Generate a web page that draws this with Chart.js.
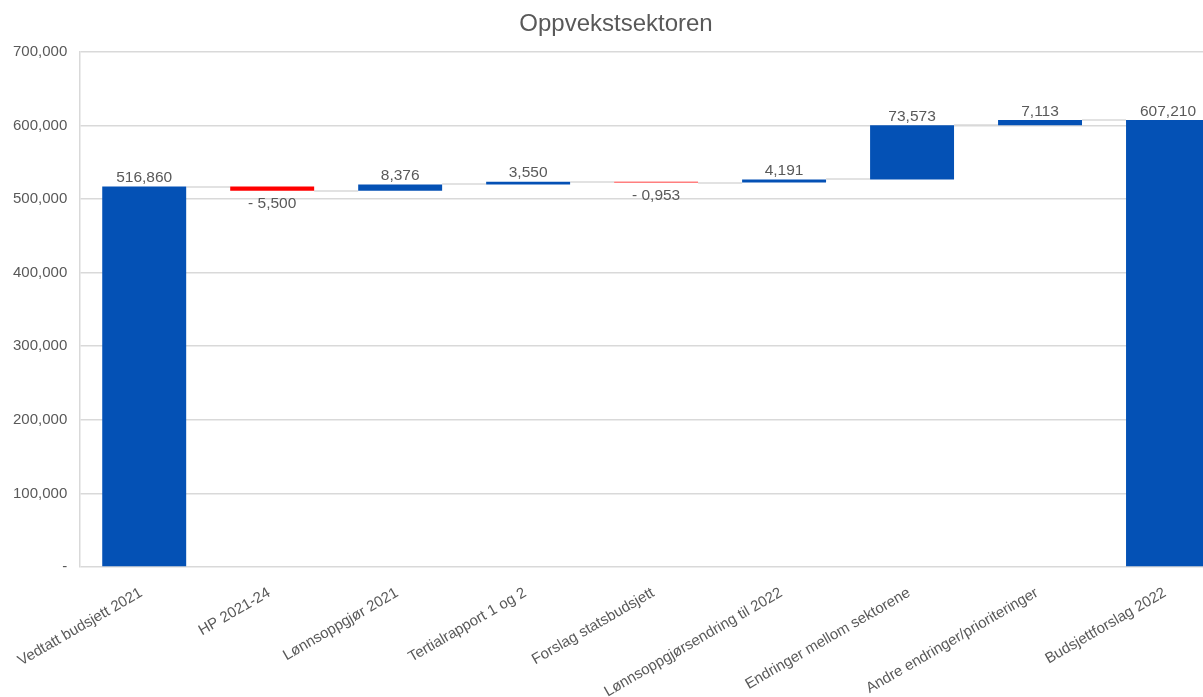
<!DOCTYPE html>
<html>
<head>
<meta charset="utf-8">
<script src="https://cdn.jsdelivr.net/npm/chart.js@4/dist/chart.umd.min.js"></script>
<style>
  html, body { margin: 0; padding: 0; background: #fff; overflow: hidden; }
  #wrap { width: 1232px; height: 697px; }
</style>
</head>
<body>
<div id="wrap"><canvas id="waterfall" width="1232" height="697"></canvas></div>
<script>
// Waterfall: budsjett 2021 -> 2022 for oppvekstsektoren

const categories = [
    "Vedtatt budsjett 2021",
    "HP 2021-24",
    "Lønnsoppgjør 2021",
    "Tertialrapport 1 og 2",
    "Forslag statsbudsjett",
    "Lønnsoppgjørsendring til 2022",
    "Endringer mellom sektorene",
    "Andre endringer/prioriteringer",
    "Budsjettforslag 2022"
]
const changes = [516860, -5500, 8376, 3550, -953, 4191, 73573, 7113, 607210]
const isTotal = [true, false, false, false, false, false, false, false, true]
const yTicks = [0, 100000, 200000, 300000, 400000, 500000, 600000, 700000]

const BLUE = "#0451b5"
const RED = "#ff0000"
const GREY_TEXT = "#595959"
const GRID = "#d9d9d9"
const FONT = "'Liberation Sans', Arial, sans-serif"

// floating bars [start, end] from the running total
const ranges = []
const totals = []
let running = 0
for (let i = 0; i < changes.length; i++) {
    if (isTotal[i]) {
        ranges.push([0, changes[i]])
        running = changes[i]
    } else {
        ranges.push([running, running + changes[i]])
        running += changes[i]
    }
    totals.push(running)
}

function fmtLabel(v) {
    const s = (Math.abs(v) / 1000).toFixed(3).replace('.', ',')
    return v < 0 ? "- " + s : s
}

const connectors = {
    id: 'connectors',
    beforeDatasetsDraw(chart) {
        const ctx = chart.ctx
        const meta = chart.getDatasetMeta(0)
        const y = chart.scales.y
        ctx.save()
        ctx.strokeStyle = GRID
        ctx.lineWidth = 1.5
        for (let i = 0; i < meta.data.length - 1; i++) {
            const a = meta.data[i], b = meta.data[i + 1]
            const py = Math.round(y.getPixelForValue(totals[i]))
            ctx.beginPath()
            ctx.moveTo(a.x + a.width / 2, py)
            ctx.lineTo(b.x - b.width / 2, py)
            ctx.stroke()
        }
        ctx.restore()
    }
}

const valueLabels = {
    id: 'valueLabels',
    afterDatasetsDraw(chart) {
        const ctx = chart.ctx
        const meta = chart.getDatasetMeta(0)
        const y = chart.scales.y
        ctx.save()
        ctx.font = "15.5px " + FONT
        ctx.fillStyle = GREY_TEXT
        ctx.textAlign = 'center'
        meta.data.forEach((bar, i) => {
            const [lo, hi] = ranges[i]
            if (changes[i] < 0) {
                ctx.textBaseline = 'top'
                ctx.fillText(fmtLabel(changes[i]), bar.x, y.getPixelForValue(Math.min(lo, hi)) + 5)
            } else {
                ctx.textBaseline = 'bottom'
                ctx.fillText(fmtLabel(changes[i]), bar.x, y.getPixelForValue(Math.max(lo, hi)) - 1)
            }
        })
        ctx.restore()
    }
}

const frame = document.getElementById("waterfall")

new Chart(frame, {
    type: 'bar',
    data: {
        labels: categories,
        datasets: [{
            data: ranges,
            backgroundColor: changes.map(v => v < 0 ? RED : BLUE),
            borderWidth: 0,
            categoryPercentage: 1,
            barPercentage: 0.656
        }]
    },
    options: {
        responsive: false,
        animation: false,
        layout: { padding: 0 },
        plugins: {
            legend: { display: false },
            tooltip: { enabled: false },
            title: {
                display: true,
                text: "Oppvekstsektoren",
                color: GREY_TEXT,
                font: { family: FONT, size: 24, weight: 'normal' },
                padding: { top: 10, bottom: 13 }
            }
        },
        scales: {
            x: {
                grid: { display: false },
                border: { display: false },
                afterFit(axis) { axis.height = 130 },
                ticks: {
                    color: GREY_TEXT,
                    font: { family: FONT, size: 15 },
                    maxRotation: 30,
                    minRotation: 30,
                    labelOffset: -3,
                    padding: 9
                }
            },
            y: {
                min: 0,
                max: 700000,
                afterBuildTicks(axis) {
                    axis.ticks = yTicks.map(v => ({ value: v }))
                },
                grid: { color: GRID, lineWidth: 1.5, drawTicks: false },
                border: { display: true, color: GRID, width: 1.5 },
                ticks: {
                    color: GREY_TEXT,
                    font: { family: FONT, size: 15 },
                    padding: 13,
                    callback: v => v === 0 ? "-" : v.toLocaleString('en-US')
                }
            }
        }
    },
    plugins: [connectors, valueLabels]
})
</script>
</body>
</html>
